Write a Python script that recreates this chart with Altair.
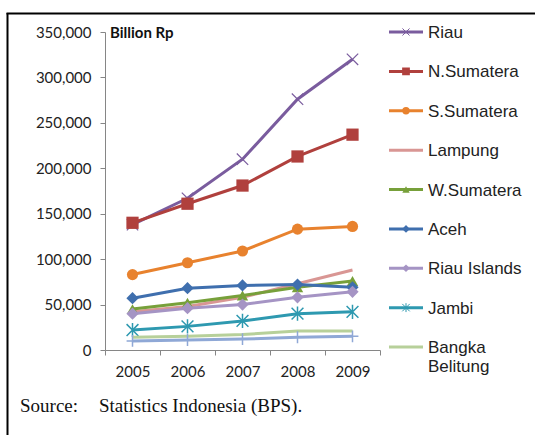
import altair as alt
import pandas as pd

years = ["2005", "2006", "2007", "2008", "2009"]
series = ["Riau", "N.Sumatera", "S.Sumatera", "Lampung", "W.Sumatera", "Aceh",
          "Riau Islands", "Jambi", "Bangka Belitung", "Bengkulu"]
legend_labels = ["Riau", "N.Sumatera", "S.Sumatera", "Lampung", "W.Sumatera", "Aceh",
                 "Riau Islands", "Jambi", "Bangka\nBelitung"]

riau = [138000, 167000, 210000, 276000, 320000]
n_sumatera = [140000, 161000, 181000, 213000, 237000]
s_sumatera = [83000, 96000, 109000, 133000, 136000]
lampung = [42000, 48000, 58000, 73000, 88000]
w_sumatera = [45000, 52000, 60000, 69000, 76000]
aceh = [57000, 68000, 71000, 72000, 69000]
riau_islands = [40000, 46000, 50000, 58000, 64000]
jambi = [22000, 26000, 32000, 40000, 42000]
bangka_belitung = [14000, 15000, 17000, 21000, 21000]
bengkulu = [10000, 11000, 12000, 14000, 15000]

values = [riau, n_sumatera, s_sumatera, lampung, w_sumatera, aceh,
          riau_islands, jambi, bangka_belitung, bengkulu]

colors = ["#7A5C9E", "#B0403D", "#E8822E", "#D99694", "#77A03A", "#3F6FAE",
          "#A594C4", "#2E99B0", "#B7D09A", "#8FA8D6"]

y_ticks = [0, 50000, 100000, 150000, 200000, 250000, 300000, 350000]

X_PATH = "M-1,-1L1,1M-1,1L1,-1"
STAR_PATH = "M-1,-1L1,1M-1,1L1,-1M0,-1.2L0,1.2"
PLUS_PATH = "M-1,0L1,0M0,-1L0,1"

# shape, filled, size, strokeWidth, legend size
markers = {
    "Riau": (X_PATH, False, 130, 1.2, 50),
    "N.Sumatera": ("square", True, 150, 0, 60),
    "S.Sumatera": ("circle", True, 125, 0, 55),
    "Lampung": None,
    "W.Sumatera": ("triangle-up", True, 130, 0, 55),
    "Aceh": ("diamond", True, 150, 0, 60),
    "Riau Islands": ("diamond", True, 150, 0, 60),
    "Jambi": (STAR_PATH, False, 140, 1.5, 55),
    "Bangka Belitung": None,
    "Bengkulu": (PLUS_PATH, False, 140, 1.5, 55),
}

rows = []
for name, vals in zip(series, values):
    for yr, v in zip(years, vals):
        rows.append({"series": name, "year": yr, "value": v})
df = pd.DataFrame(rows)

leg_df = pd.DataFrame({"series": series[:9], "label": legend_labels})

FONT_AX = "Lato"

x_scale = alt.Scale(type="band", domain=years, paddingInner=0, paddingOuter=0)
y_scale = alt.Scale(domain=[0, 350000], nice=False, zero=True)

x_axis = alt.Axis(title=None, tickBand="extent", tickSize=5, labelPadding=9,
                  labelFont=FONT_AX, labelFontSize=15, labelColor="#222222",
                  tickColor="#868686", domainColor="#868686", grid=False, labelAngle=0)
y_axis = alt.Axis(title=None, values=y_ticks, format=",.0f", tickSize=5, labelPadding=9,
                  labelFont=FONT_AX, labelFontSize=15, labelColor="#222222",
                  tickColor="#868686", domainColor="#868686", grid=False)

X_ENC = alt.X("year:O", scale=x_scale, bandPosition=0.5, axis=x_axis)
Y_ENC = alt.Y("value:Q", scale=y_scale, axis=y_axis)

main_layers = []
for i, (name, col) in enumerate(zip(series, colors)):
    sub = df[df["series"] == name]
    main_layers.append(
        alt.Chart(sub).mark_line(color=col, strokeWidth=3).encode(x=X_ENC, y=Y_ENC)
    )
    m = markers[name]
    if m is not None:
        shape, filled, size, sw, _ = m
        props = dict(shape=shape, filled=filled, size=size, opacity=1)
        if filled:
            props.update(fill=col, strokeWidth=0)
        else:
            props.update(stroke=col, strokeWidth=sw)
        main_layers.append(alt.Chart(sub).mark_point(**props).encode(x=X_ENC, y=Y_ENC))

main = alt.layer(*main_layers)

leg_scale = alt.Scale(type="point", domain=series[:9], range=[0, 315], padding=0)
LEG_Y = alt.Y("series:N", scale=leg_scale, axis=None)
leg_layers = []
for name, col in zip(series[:9], colors[:9]):
    sub = leg_df[leg_df["series"] == name]
    leg_layers.append(alt.Chart(sub).mark_rule(color=col, strokeWidth=3).encode(
        x=alt.value(284), x2=alt.value(318), y=LEG_Y,
    ))
    m = markers[name]
    if m is not None:
        shape, filled, size, sw, lsize = m
        props = dict(shape=shape, filled=filled, size=lsize, opacity=1)
        if filled:
            props.update(fill=col, strokeWidth=0)
        else:
            props.update(stroke=col, strokeWidth=1)
        leg_layers.append(alt.Chart(sub).mark_point(**props).encode(
            x=alt.value(301), y=LEG_Y,
        ))

leg_layers.append(alt.Chart(leg_df).mark_text(
    align="left", baseline="alphabetic", dy=6, lineBreak="\n", lineHeight=19,
    font="Liberation Sans", fontSize=17, color="#222222"
).encode(
    x=alt.value(323), y=LEG_Y, text="label:N",
))

legend = alt.layer(*leg_layers)

one = pd.DataFrame({"k": [0]})
deco = alt.layer(
    alt.Chart(one).mark_rule(color="black", strokeWidth=2).encode(
        x=alt.value(-97.5), y=alt.value(-19), y2=alt.value(403)),
    alt.Chart(one).mark_rule(color="black", strokeWidth=2).encode(
        x=alt.value(-98.5), x2=alt.value(430), y=alt.value(-18.5)),
    alt.Chart(one).mark_text(text="Billion Rp", align="left", baseline="middle",
                             font=FONT_AX, fontSize=15, fontWeight="bold",
                             color="#111111").encode(
        x=alt.value(5), y=alt.value(1)),
    alt.Chart(one).mark_text(text="Source:", align="left", baseline="alphabetic",
                             font="Liberation Serif", fontSize=19,
                             color="#111111").encode(
        x=alt.value(-85), y=alt.value(380)),
    alt.Chart(one).mark_text(text="Statistics Indonesia (BPS).", align="left",
                             baseline="alphabetic", font="Liberation Serif",
                             fontSize=19, color="#111111").encode(
        x=alt.value(-6), y=alt.value(380)),
)

chart = alt.layer(main, legend, deco).resolve_scale(y="independent").properties(
    width=275, height=318, autosize="none",
    padding={"left": 105, "top": 32, "right": 155, "bottom": 85},
    background="white",
).configure_view(stroke=None)

chart.save("out.html", embed_options={"renderer": "svg", "actions": False})
